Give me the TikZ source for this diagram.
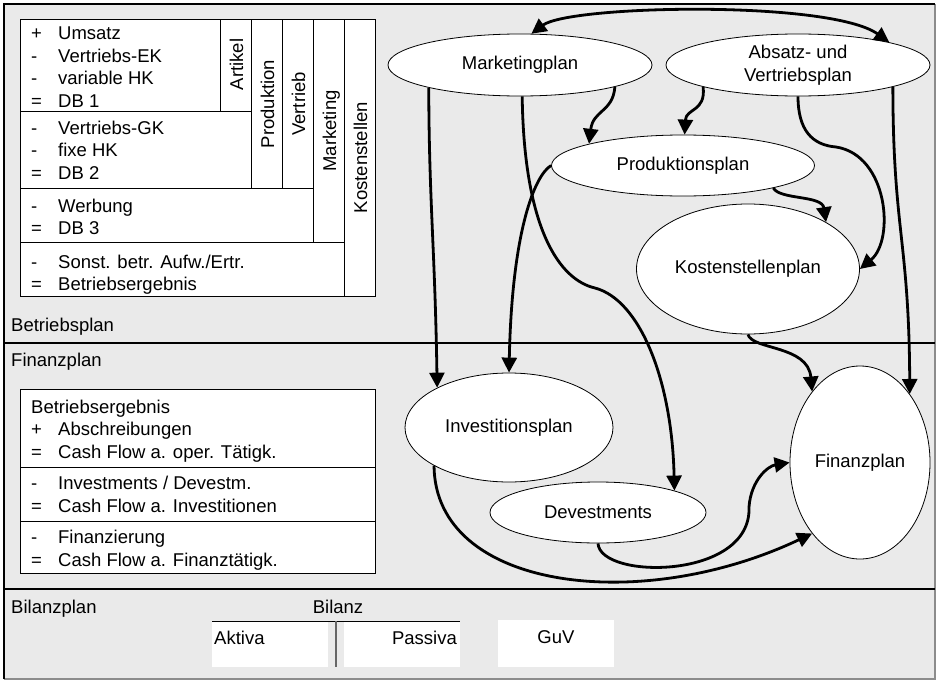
\documentclass[tikz,border=0pt]{standalone}
\usepackage{fontspec}
\setmainfont{Liberation Sans}
\usetikzlibrary{arrows.meta,shapes.geometric}
\definecolor{bg}{RGB}{234,234,234}
\definecolor{frameR}{RGB}{140,140,140}
\newcommand\plansign[1]{\makebox[27pt][l]{#1}}
\newcommand\planrows[1]{\begin{tabular}[t]{@{}l@{}}#1\end{tabular}}
\begin{document}
\begin{tikzpicture}[x=1pt,y=-1pt,
  >={Triangle[length=15pt,width=15pt]},
  txt/.style={font=\fontsize{18.5}{22.5}\selectfont, inner sep=0pt},
  plan/.style={ellipse, draw=black, line width=0.8pt, fill=white, inner sep=0pt, align=center, font=\fontsize{18.5}{23}\selectfont},
  cell/.style={draw=black, line width=1pt},
  sep/.style={draw=black, line width=2.4pt},
  flow/.style={line width=2.8pt, ->},
]
\useasboundingbox (0,0) rectangle (937,680);
% background and frame
\fill[bg] (4,4) rectangle (935,679);
\draw[frameR, line width=1.5pt] (935,4) -- (935,679) -- (4,679);
\draw[black, line width=2.2pt] (4,679) -- (4,4) -- (935,4);
\draw[sep] (4,343) -- (935,343);
\draw[sep] (4,589) -- (935,589);

% Betriebsplan table
\fill[white] (20,19) rectangle (375,296);
\draw[cell] (20,19) rectangle (375,296);
\draw[cell] (220,19) -- (220,111) (251,19) -- (251,188) (282,19) -- (282,188)
            (313,19) -- (313,242) (344,19) -- (344,296);
\draw[cell] (20,111) -- (251,111) (20,188) -- (313,188) (20,242) -- (344,242);

\node[txt, anchor=base west] (t1) at (31,39.5) {\planrows{\plansign{+}Umsatz\\ \plansign{-}Vertriebs-EK\\ \plansign{-}variable HK\\ \plansign{=}DB 1}};
\node[txt, anchor=base west] (t2) at (31,134) {\planrows{\plansign{-}Vertriebs-GK\\ \plansign{-}fixe HK\\ \plansign{=}DB 2}};
\node[txt, anchor=base west] (t3) at (31,212) {\planrows{\plansign{-}Werbung\\ \plansign{=}DB 3}};
\node[txt, anchor=base west] (t4) at (31,268) {\planrows{\plansign{-}Sonst. betr. Aufw./Ertr.\\ \plansign{=}Betriebsergebnis}};

\node[txt, rotate=90, anchor=base] (cArt) at (243,64.5) {Artikel};
\node[txt, rotate=90, anchor=base] (cPro) at (274,104) {Produktion};
\node[txt, rotate=90, anchor=base] (cVer) at (305,104) {Vertrieb};
\node[txt, rotate=90, anchor=base] (cMar) at (336,131) {Marketing};
\node[txt, rotate=90, anchor=base] (cKos) at (367,157.5) {Kostenstellen};

% Finanzplan table
\fill[white] (20,389) rectangle (375,573);
\draw[cell] (20,389) rectangle (375,573);
\draw[cell] (20,467) -- (375,467) (20,521) -- (375,521);
\node[txt, anchor=base west] (f1) at (31,413) {\planrows{Betriebsergebnis\\ \plansign{+}Abschreibungen\\ \plansign{=}Cash Flow a. oper. Tätigk.}};
\node[txt, anchor=base west] (f2) at (31,489.5) {\planrows{\plansign{-}Investments / Devestm.\\ \plansign{=}Cash Flow a. Investitionen}};
\node[txt, anchor=base west] (f3) at (31,543.5) {\planrows{\plansign{-}Finanzierung\\ \plansign{=}Cash Flow a. Finanztätigk.}};

% section labels
\node[txt, anchor=base west] (lBet) at (11,331) {Betriebsplan};
\node[txt, anchor=base west] (lFin) at (11,366) {Finanzplan};
\node[txt, anchor=base west] (lBil) at (11,613) {Bilanzplan};

% Bilanz
\fill[white] (212,621) rectangle (328,667);
\fill[white] (344,621) rectangle (460,667);
\fill[white] (498,620) rectangle (614,667);
\draw[line width=0.8pt] (212,621) -- (460,621);
\draw[line width=1.5pt, black!60] (336,621) -- (336,667);
\node[txt, anchor=base] (lBilanz) at (338,613) {Bilanz};
\node[txt, anchor=base west] (akt) at (214,644) {Aktiva};
\node[txt, anchor=base east] (pas) at (457,644) {Passiva};
\node[txt, anchor=base] (guv) at (556,643) {GuV};

% plans
\node[plan, minimum width=264pt, minimum height=62pt] (mp) at (520,65) {Marketingplan};
\node[plan, minimum width=264pt, minimum height=62pt] (av) at (798,65) {Absatz- und\\Vertriebsplan};
\node[plan, minimum width=263pt, minimum height=61pt] (pp) at (683,165.5) {Produktionsplan};
\node[plan, minimum width=223pt, minimum height=130pt] (kp) at (748,269) {Kostenstellenplan};
\node[plan, minimum width=208pt, minimum height=109pt] (ip) at (509,427.5) {Investitionsplan};
\node[plan, minimum width=216pt, minimum height=61pt] (dv) at (598,512.5) {Devestments};
\node[plan, minimum width=140pt, minimum height=193pt] (fp) at (860,462.5) {Finanzplan};

% connectors
\draw[flow, <->] (mp.70) .. controls (570,5) and (830,0) .. (av.14);
\draw[flow] (mp.194) .. controls (429,200) and (435,250) .. (ip.151);
\draw[flow] (mp.274) .. controls (524,230) and (560,280) .. (595,288)
                     .. controls (640,300) and (672,380) .. (dv.16);
\draw[flow] (mp.347) .. controls (613,112) and (593,110) .. (pp.167);
\draw[flow] (av.193) .. controls (706,112) and (686,108) .. (pp.87);
\draw[flow] (av.south) .. controls (798,130) and (812,145) .. (836,147)
                       .. controls (888,155) and (895,240) .. (kp.east);
\draw[flow] (av.347) .. controls (893,230) and (909,240) .. (fp.54);
\draw[flow] (pp.346) .. controls (780,200) and (822,195) .. (kp.31);
\draw[flow] (pp.west) .. controls (535,175) and (512,230) .. (ip.north);
\draw[flow] (kp.south) .. controls (752,350) and (808,345) .. (fp.124);
\draw[flow] (ip.207) .. controls (435,590) and (640,615) .. (fp.236);
\draw[flow] (dv.south) .. controls (600,580) and (752,580) .. (749,507)
                       .. controls (751,480) and (768,466) .. (fp.west);
\end{tikzpicture}
\end{document}
